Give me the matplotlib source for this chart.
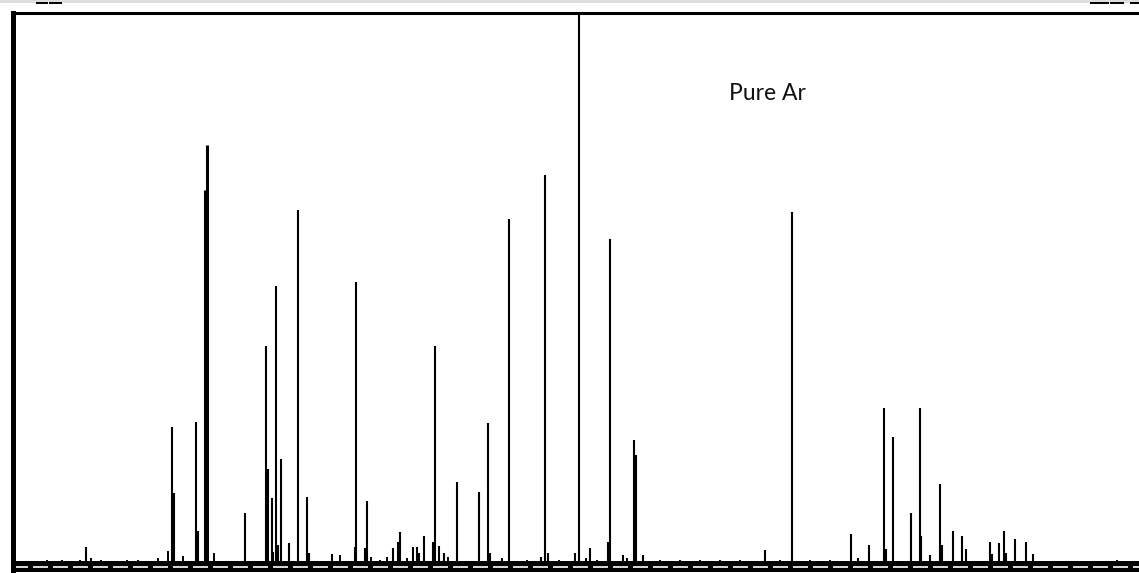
import matplotlib
matplotlib.use("Agg")
import matplotlib.pyplot as plt
from matplotlib.lines import Line2D
from matplotlib.patches import Rectangle

W, H = 1139, 573

# Spectrum peaks: channel position and intensity (arbitrary units)
peak_pos = [86, 172, 174, 196, 198, 245, 266, 268, 272, 273, 276, 278, 281, 289,
            298, 307, 309, 355, 356, 365, 367, 393, 398, 400, 413, 417, 419, 424,
            433, 435, 439, 444, 457, 479, 488, 490, 509, 541, 545, 548, 575, 590,
            608, 610, 623, 634, 636, 643, 765, 792, 851, 858, 869, 884, 886, 893,
            911, 920, 921, 930, 940, 942, 953, 962, 966, 990, 992, 999, 1004,
            1006, 1015, 1026, 1033]
peak_int = [15, 135, 69, 140, 31, 49, 216, 93, 64, 10, 276, 17, 103, 19,
            352, 65, 9, 15, 280, 14, 61, 14, 20, 30, 15, 15, 9, 26,
            20, 216, 16, 9, 80, 70, 139, 9, 343, 5, 387, 9, 9, 14,
            20, 323, 7, 122, 107, 7, 12, 350, 28, 4, 17, 154, 13, 125,
            49, 154, 26, 7, 78, 17, 31, 26, 13, 20, 8, 19, 31,
            9, 23, 20, 8]

# Strongest (broad) doublet
strong_pos = [205, 207]
strong_int = [372, 417]

# Small baseline features
noise_pos = [47, 62, 80, 91, 101, 127, 138, 158, 168, 183, 214, 332, 340, 371,
             380, 387, 407, 448, 502, 527, 559, 586, 597, 627, 660, 680, 700,
             720, 740, 780, 810, 830, 1117]
noise_int = [2, 2, 2, 4, 2, 2, 2, 4, 11, 6, 9, 8, 7, 5,
             2, 5, 4, 5, 4, 2, 2, 4, 2, 4, 2, 2, 2,
             2, 2, 2, 2, 2, 2]

separator_pos = 579
label_text = "Pure Ar"

fig = plt.figure(figsize=(W / 100, H / 100), dpi=100)
fig.patch.set_facecolor("white")

left = 12.5 / W
bottom = 1 / H
top = (H - 13) / H
ax = fig.add_axes([left, bottom, 1.0 - left + 0.01, top - bottom])
ax.set_xlim(12.5, 1139 + 0.01 * W)
ax.set_ylim(-10, 549)

ax.vlines(noise_pos, 0, noise_int, color="black", lw=1.4)
ax.vlines(peak_pos, 0, peak_int, color="black", lw=1.5)
ax.vlines(strong_pos, 0, strong_int, color="black", lw=2.2)
ax.axvline(separator_pos, color="black", lw=1.5)

# thick baseline band with white dashed line
ax.axhspan(-10, 1, color="black", lw=0)
ax.axhline(-5, color="white", lw=1.2, dashes=(9, 3))

ax.text(729, 462, label_text, fontsize=16.5, family=["Lato", "DejaVu Sans"],
        ha="left", va="baseline", color="#111111")

for s in ["right", "bottom"]:
    ax.spines[s].set_visible(False)
ax.spines["left"].set_linewidth(3.6)
ax.spines["top"].set_linewidth(2.2)
ax.set_xticks([])
ax.set_yticks([])

# light gray strip at top and cut-off marks
fig.patches.append(Rectangle((0, 1 - 3 / H), 1, 3 / H, transform=fig.transFigure,
                             color="#dedede", lw=0))
for x0, x1 in [(37, 47), (50, 61), (1091, 1108), (1111, 1123), (1131, 1139)]:
    fig.lines.append(Line2D([x0 / W, x1 / W], [1 - 3 / H, 1 - 3 / H],
                            transform=fig.transFigure, color="black", lw=1.4))

fig.savefig("out.png", dpi=100)
